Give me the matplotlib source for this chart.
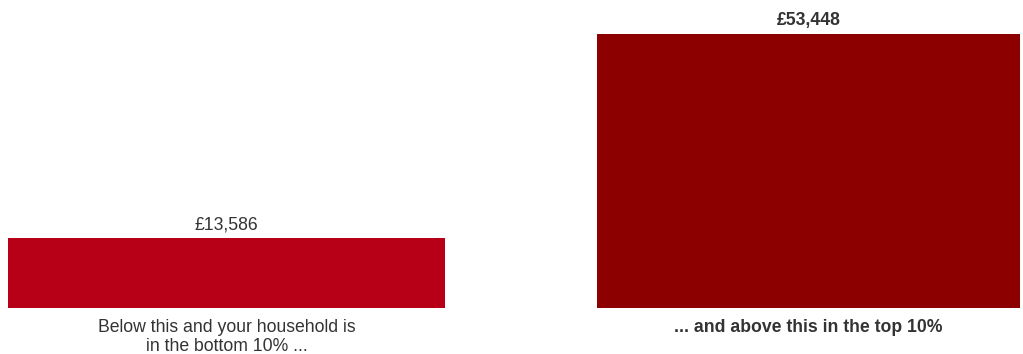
import matplotlib
matplotlib.use("Agg")
import matplotlib.pyplot as plt

values = [13586, 53448]
value_labels = ["£13,586", "£53,448"]
captions = ["Below this and your household is\nin the bottom 10% ...", "... and above this in the top 10%"]
colors = ["#B70017", "#8C0000"]
weights = ["normal", "bold"]

plt.rcParams['font.family'] = ['Liberation Sans', 'DejaVu Sans']

fig = plt.figure(figsize=(10.23, 3.54), dpi=100)
ax = fig.add_axes([0, 46 / 354, 1, 308 / 354])

x = [0, 1]
bars = ax.bar(x, values, width=[0.751, 0.727], color=colors)
ax.set_xlim(-0.389, 1.3686)
ax.set_ylim(0, 60080)
ax.axis("off")

for b, lab, cap, w in zip(bars, value_labels, captions, weights):
    cx = b.get_x() + b.get_width() / 2
    ax.annotate(lab, (cx, b.get_height()), xytext=(0, 3.3), textcoords="offset points",
                ha="center", va="bottom", fontsize=12.7, color="#333333", fontweight=w)
    ax.annotate(cap, (cx, 0), xytext=(0, -8), textcoords="offset points",
                ha="center", va="top", fontsize=12.7, color="#333333", fontweight=w,
                linespacing=1.15)

fig.savefig("out.png", dpi=100)
